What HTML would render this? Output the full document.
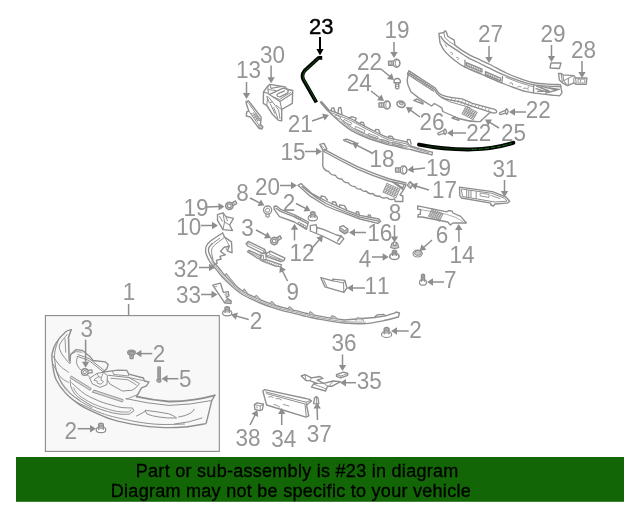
<!DOCTYPE html>
<html><head><meta charset="utf-8"><title>Part diagram</title>
<style>
html,body{margin:0;padding:0;background:#fff;}
body{width:640px;height:512px;overflow:hidden;position:relative;font-family:"Liberation Sans",sans-serif;}
svg{position:absolute;left:0;top:0;}
svg text{font-family:"Liberation Sans",sans-serif;font-size:22.5px;font-kerning:none;}
svg text.bt{font-size:18px;letter-spacing:0.28px;fill:#000;stroke:#000;stroke-width:0.3px;}
</style></head><body>
<svg width="640" height="512" viewBox="0 0 640 512">
<defs><filter id="nf" x="0" y="0" width="640" height="512" filterUnits="userSpaceOnUse" color-interpolation-filters="sRGB"><feOffset dx="0" dy="0"/></filter></defs>
<rect x="45.4" y="315.6" width="173.9" height="135.8" fill="#f8f8f8" stroke="#8a8a8a" stroke-width="1.1"/>
<g style="isolation:isolate;mix-blend-mode:normal" filter="url(#nf)">
<path d="M322.2 57.8L318.6 57.8L304.6 70.6Q301.2 74.8 303.3 79.6L316.4 102.4" stroke="#000" stroke-width="3.7" fill="none" stroke-linejoin="round"/>
<path d="M318.6 58.2L304.8 71Q301.8 75 303.8 79.4L316 101" stroke="#0f5f0a" stroke-width="0.9" fill="none"/>
<path d="M419 144.6Q445 149.8 472 149.4Q492 149 513.4 142.8" stroke="#000" stroke-width="3.9" fill="none" stroke-linecap="round"/>
<path d="M426 146.2Q449 149.8 472 149.5" stroke="#0c470a" stroke-width="0.8" fill="none"/>
<path d="M472 149.5Q492 149 511.6 143.4" stroke="#17801a" stroke-width="0.9" fill="none" stroke-dasharray="5 1.2"/>
<path d="M438.9 33.4L443.9 32.5L444.5 30.9L446 31.2L448 36.5L454.2 40.2L455 45.2L455.0 45.2C456.2 46.1 459.6 48.8 462.0 50.4C464.4 52.0 466.5 53.2 469.5 54.8C472.5 56.4 476.6 58.2 480.0 59.8C483.4 61.4 485.6 62.3 490.0 64.5C494.4 66.7 501.4 70.7 506.2 73.0C511.0 75.3 514.6 76.6 519.0 78.2C523.4 79.8 527.7 81.5 532.5 82.5C537.3 83.5 543.4 83.9 548.0 84.2C552.6 84.5 558.3 84.5 560.4 84.6L562 92.8L559.6 95.8L559.6 95.8C557.2 95.6 550.4 95.1 545.0 94.4C539.6 93.8 532.5 93.0 527.5 91.9C522.5 90.8 519.3 89.5 515.0 88.0C510.7 86.5 507.4 85.3 501.9 83.0C496.4 80.7 488.1 77.0 482.0 74.4C475.9 71.8 469.6 69.6 465.0 67.2C460.4 64.8 457.9 62.9 454.5 60.2C451.1 57.5 446.9 53.8 444.5 50.9C442.1 48.0 440.8 44.1 440.0 42.8Z" stroke="#8e8e8e" stroke-width="1.35" fill="none" stroke-linejoin="round" stroke-linecap="round" />
<path d="M440.8 36.5C441.3 37.2 442.8 39.6 444.0 41.0C445.2 42.4 446.0 43.0 448.2 44.6C450.4 46.2 453.7 48.2 457.0 50.4C460.3 52.6 464.7 55.8 468.2 57.8C471.7 59.8 474.4 60.7 478.0 62.5C481.6 64.3 485.9 66.4 490.0 68.4C494.1 70.4 497.9 72.4 502.5 74.4C507.1 76.4 512.5 78.5 517.5 80.2C522.5 81.9 527.4 83.6 532.5 84.6C537.6 85.6 543.3 85.9 548.0 86.2C552.7 86.5 558.7 86.5 560.8 86.6" stroke="#8e8e8e" stroke-width="1.35" fill="none" stroke-linejoin="round" stroke-linecap="round" />
<path d="M443.9 32.5L444.8 37.6Q450 43 455 45.2" stroke="#8e8e8e" stroke-width="1.0" fill="none" stroke-linejoin="round" stroke-linecap="round" />
<path d="M465 60.2L465 67.2M502.5 76.6L501.9 83M533.8 85L533.4 92.6" stroke="#8e8e8e" stroke-width="1.35" fill="none" stroke-linejoin="round" stroke-linecap="round" />
<path d="M466.4 62.6L482.0 69.2L482.0 72.0L466.4 65.6Z" stroke="#8e8e8e" stroke-width="1.35" fill="none" stroke-linejoin="round" stroke-linecap="round" />
<path d="M485.4 71.6L500.4 78.0L500.4 80.8L485.4 74.6Z" stroke="#8e8e8e" stroke-width="1.35" fill="none" stroke-linejoin="round" stroke-linecap="round" />
<path d="M468 63.6V66.2M469.8 64.4V67M471.6 65.2V67.8M473.4 66V68.6M475.2 66.8V69.4M477 67.6V70.2M478.8 68.4V71M480.6 69.2V71.8M487 72.6V75.2M488.8 73.4V76M490.6 74.2V76.8M492.4 75V77.6M494.2 75.8V78.4M496 76.6V79.2M497.8 77.4V80" stroke="#8e8e8e" stroke-width="0.9" fill="none" stroke-linejoin="round" stroke-linecap="round" />
<path d="M466.4 67.6L481.4 73.4M485.4 76.4L500 82" stroke="#8e8e8e" stroke-width="0.9" fill="none" stroke-linejoin="round" stroke-linecap="round" />
<path d="M445 44.5l1.6 2.4M450.6 52.6q1.4-.8 2 .6l-.6 1.4M456.6 57.4q1.6-.6 2 1l-.8 1.2" stroke="#8e8e8e" stroke-width="0.9" fill="none" stroke-linejoin="round" stroke-linecap="round" />
<path d="M509.6 83.4q1.2-1.4 2.6-.2l.4 1.6M517.6 87q1.6-1.6 3.4-.2M523.4 88.4q1.6-1.2 3.2 0M528.6 86.6q-1.6 1.6-.6 3.6" stroke="#8e8e8e" stroke-width="0.9" fill="none" stroke-linejoin="round" stroke-linecap="round" />
<path d="M506 77.4Q520 83.4 532.6 86.6" stroke="#8e8e8e" stroke-width="0.9" fill="none" stroke-linejoin="round" stroke-linecap="round" />
<path d="M536.6 86.2L549 91L537.6 91.4M541 86.4L557 90L545.6 93.2M549.6 87.8L559.4 89.4M536 88.6L544 91.2" stroke="#8e8e8e" stroke-width="1.35" fill="none" stroke-linejoin="round" stroke-linecap="round" />
<path d="M409 70.9L435.3 88Q438 93 441 94.7Q446 97 451 97.4L462 98.8L472.5 103.4L494.6 109.4Q497.4 110.8 496.4 112.4Q495 113.6 491 112.4" stroke="#8e8e8e" stroke-width="1.35" fill="none" stroke-linejoin="round" stroke-linecap="round" />
<path d="M408.2 72.6L434.6 89.6Q437 94.5 440.4 96.6Q446 99.4 450.6 100.2L459.4 101.6L471.6 106.2L491 112.4" stroke="#8e8e8e" stroke-width="1.35" fill="none" stroke-linejoin="round" stroke-linecap="round" />
<path d="M407.6 74.2L433.8 91.2" stroke="#8e8e8e" stroke-width="1.1" fill="none" stroke-linejoin="round" stroke-linecap="round" />
<path d="M409.0 70.9L407.4 74.4" stroke="#8e8e8e" stroke-width="1.35" fill="none" stroke-linejoin="round" stroke-linecap="round" />
<path d="M410.8 72.8l-1.2 2.6M412.7 74.0l-1.2 2.6M414.5 75.2l-1.2 2.6M416.4 76.4l-1.2 2.6M418.2 77.6l-1.2 2.6M420.1 78.9l-1.2 2.6M421.9 80.1l-1.2 2.6M423.8 81.3l-1.2 2.6M425.6 82.5l-1.2 2.6M427.5 83.7l-1.2 2.6M429.3 84.9l-1.2 2.6M431.2 86.1l-1.2 2.6M433.0 87.3l-1.2 2.6" stroke="#8e8e8e" stroke-width="0.8" fill="none" stroke-linejoin="round" stroke-linecap="round" />
<path d="M452.0 98.0l-1 2.6M455.4 99.0l-1 2.6M458.8 99.9l-1 2.6M462.2 100.9l-1 2.6M465.6 101.8l-1 2.6M469.0 102.8l-1 2.6M472.4 103.8l-1 2.6M475.8 104.7l-1 2.6M479.2 105.7l-1 2.6M482.6 106.6l-1 2.6M486.0 107.6l-1 2.6M489.4 108.6l-1 2.6" stroke="#8e8e8e" stroke-width="0.8" fill="none" stroke-linejoin="round" stroke-linecap="round" />
<path d="M408.3 74.5Q406.5 80 407.8 84.4L411 92L419.4 98.4L431.5 106L434.4 103.5L441.9 107.8L442.8 111.5L458.8 118.5Q470 122 480.3 121.5L488.8 113.4L491 112.4" stroke="#8e8e8e" stroke-width="1.35" fill="none" stroke-linejoin="round" stroke-linecap="round" />
<path d="M413.8 100.3L417.0 99.0L423.0 102.5L423.0 104.0Z" stroke="#8e8e8e" stroke-width="1.35" fill="none" stroke-linejoin="round" stroke-linecap="round" />
<path d="M452.0 118.0L455.0 117.0L458.8 119.0L458.8 120.4Z" stroke="#8e8e8e" stroke-width="1.35" fill="none" stroke-linejoin="round" stroke-linecap="round" />
<path d="M441 97.5L449.4 101.6L470 107.6" stroke="#8e8e8e" stroke-width="1.0" fill="none" stroke-linejoin="round" stroke-linecap="round" />
<path d="M466.1 106.3L477.1 112.2M466.1 106.3L462.1 113.8M465.4 107.6L476.4 113.4M467.9 107.3L463.9 114.8M464.7 108.8L475.8 114.7M469.8 108.3L465.8 115.8M464.1 110.1L475.1 115.9M471.6 109.2L467.6 116.8M463.4 111.3L474.5 117.2M473.4 110.2L469.4 117.7M462.8 112.6L473.8 118.4M475.3 111.2L471.3 118.7M462.1 113.8L473.1 119.7M477.1 112.2L473.1 119.7" stroke="#8e8e8e" stroke-width="0.85" fill="none" stroke-linejoin="round" stroke-linecap="round" />
<path d="M328.8 110.0C331.1 110.8 338.6 113.4 342.5 115.0C346.4 116.6 349.4 117.9 352.5 119.5C355.6 121.1 357.3 122.3 361.2 124.4C365.1 126.5 371.5 129.8 376.0 132.0C380.5 134.2 383.0 135.9 388.0 137.6C393.0 139.2 402.3 140.5 406.2 141.9C410.1 143.3 406.8 144.5 411.2 146.2C415.6 147.9 428.9 151.2 432.5 152.2L431.9 155L431.9 155.0C428.7 154.2 416.8 151.0 412.5 150.0C408.2 149.0 409.1 149.4 406.2 148.8C403.3 148.2 398.5 147.0 395.0 146.2C391.5 145.4 389.6 145.2 385.0 143.8C380.4 142.4 372.9 140.1 367.5 138.0C362.1 135.9 357.1 133.9 352.5 131.2C347.9 128.5 344.2 125.3 340.0 121.9C335.8 118.5 329.6 112.5 327.5 110.6L320.4 102.4L321.4 101.4Z" stroke="#8e8e8e" stroke-width="1.35" fill="none" stroke-linejoin="round" stroke-linecap="round" />
<path d="M321.6 102.6L328 110.4" stroke="#8e8e8e" stroke-width="0.9" fill="none" stroke-linejoin="round" stroke-linecap="round" />
<path d="M329.4 112.2C331.7 113.0 339.2 115.6 343.1 117.2C347.1 118.8 350.0 120.1 353.1 121.7C356.2 123.3 357.9 124.5 361.8 126.6C365.7 128.7 372.1 132.0 376.6 134.2C381.1 136.4 383.6 138.1 388.6 139.8C393.6 141.4 402.9 142.7 406.8 144.1C410.7 145.5 411.0 147.7 411.8 148.4" stroke="#8e8e8e" stroke-width="1.0" fill="none" stroke-linejoin="round" stroke-linecap="round" />
<path d="M341.2 119.3C343.3 120.9 349.1 125.9 353.7 128.6C358.3 131.3 363.3 133.3 368.7 135.4C374.1 137.5 381.6 139.8 386.2 141.2C390.8 142.6 392.7 142.8 396.2 143.6C399.7 144.4 404.5 145.6 407.4 146.2C410.3 146.8 412.6 147.2 413.7 147.4" stroke="#8e8e8e" stroke-width="1.0" fill="none" stroke-linejoin="round" stroke-linecap="round" />
<path d="M340.9 120.7C343.0 122.2 348.8 127.3 353.4 130.0C358.0 132.7 363.0 134.7 368.4 136.8C373.8 138.9 381.3 141.2 385.9 142.6C390.5 144.0 392.4 144.2 395.9 145.0C399.4 145.8 405.2 147.2 407.1 147.6" stroke="#8e8e8e" stroke-width="0.8" fill="none" stroke-linejoin="round" stroke-linecap="round" />
<path d="M331.2 111l.4-2.9 2.2-.3 1.2 4M338 113.6l.6-5.6 2.2-.5 1.2 7M348.8 118.2l3-1.6 4.4 1.6 -1 2.2M360 123.8l.6-1.6 2.6.2 1.2 3.2M375 131.4l.6-2 3 .2 1.4 3.4M388 137.6l1-1.6 3 .4 1.8 3M407 142l.6-2.6 2.4.2 1.2 4.6" stroke="#8e8e8e" stroke-width="1.35" fill="none" stroke-linejoin="round" stroke-linecap="round" />
<path d="M336 115l5 2.6-1 1.8-5-2.6zM344.6 119.6l7 3.6-1 2-7-3.6zM356 126.6l9 4-.9 2.2-9-4zM369 133.6l9 3.4-.8 2.2-9-3.4zM382 139.4l7 2.2-.6 2-7-2.2zM393 142.4l9 2-.4 2-9-2z" stroke="#8e8e8e" stroke-width="0.9" fill="none" stroke-linejoin="round" stroke-linecap="round" />
<path d="M414 148.4l15 4.4" stroke="#8e8e8e" stroke-width="0.9" fill="none" stroke-linejoin="round" stroke-linecap="round" />
<path d="M343.4 139.8L347.0 139.2L355.5 142.6L352.0 143.8Z" stroke="#8e8e8e" stroke-width="1.35" fill="none" stroke-linejoin="round" stroke-linecap="round" />
<path d="M346 140.2l-1.4 1.2M348.4 141l-1.4 1.4M350.8 142l-1.4 1.3" stroke="#8e8e8e" stroke-width="0.8" fill="none" stroke-linejoin="round" stroke-linecap="round" />
<path d="M319.8 144.4L324.0 143.4L326.9 149.0L323.0 150.4Z" stroke="#8e8e8e" stroke-width="1.35" fill="none" stroke-linejoin="round" stroke-linecap="round" />
<path d="M321.8 145.8l2.2 2.4" stroke="#8e8e8e" stroke-width="0.9" fill="none" stroke-linejoin="round" stroke-linecap="round" />
<path d="M323 151Q340 160.5 356.9 168.8Q373 176 388.8 181L405.6 184.7" stroke="#8e8e8e" stroke-width="1.35" fill="none" stroke-linejoin="round" stroke-linecap="round" />
<path d="M324.6 149.6Q341 158.6 357.9 166.9Q374 174 389.6 179L406 183" stroke="#8e8e8e" stroke-width="1.35" fill="none" stroke-linejoin="round" stroke-linecap="round" />
<path d="M322.8 151.9L322.8 166Q324.1 170.6 328.8 171.5Q330.8 175.5 335.4 175.2Q337.4 179.3 341.9 179.0Q343.9 183.0 348.4 182.8Q350.5 186.8 355.0 186.5Q356.8 189.9 360.5 188.8Q362.3 192.2 366.0 191.0Q368.5 194.6 372.7 193.5Q375.2 197.1 379.4 196.0Q382.7 199.2 386.9 197.4Q390.2 200.6 394.4 198.8L395.3 201.5L402.8 201.5L402.8 196L400 195L403.8 189.4L406 185" stroke="#8e8e8e" stroke-width="1.35" fill="none" stroke-linejoin="round" stroke-linecap="round" />
<path d="M392.5 182L402.8 189.4M396 183.2L402 187.5M404 184.4l-1.5 4" stroke="#8e8e8e" stroke-width="1.35" fill="none" stroke-linejoin="round" stroke-linecap="round" />
<path d="M386.9 183.4L399.7 189.1M386.9 183.4L383.1 192.1M386.3 184.9L399.1 190.6M389.1 184.4L385.2 193.0M385.6 186.3L398.4 192.0M391.2 185.3L387.3 194.0M385.0 187.8L397.8 193.4M393.3 186.3L389.5 194.9M384.4 189.2L397.2 194.9M395.5 187.2L391.6 195.9M383.7 190.6L396.5 196.3M397.6 188.2L393.7 196.8M383.1 192.1L395.9 197.8M399.7 189.1L395.9 197.8" stroke="#8e8e8e" stroke-width="0.85" fill="none" stroke-linejoin="round" stroke-linecap="round" />
<path d="M407.3 185.2L410.0 181.6L413.2 184.6L410.4 188.4Z" stroke="#8e8e8e" stroke-width="1.35" fill="none" stroke-linejoin="round" stroke-linecap="round" />
<path d="M409 184.8l1.6-1.6 1.4 1.4-1.6 1.8z" stroke="#8e8e8e" stroke-width="0.8" fill="none" stroke-linejoin="round" stroke-linecap="round" />
<path d="M298 185.3L301 183.6L312 193.7Q319 197.6 326 201L345 209.7L360 215.3L378.8 219L380.6 221.5L377.8 223.4L360 219L345 213.4Q335 210 326 206L309.4 195.6Z" stroke="#8e8e8e" stroke-width="1.35" fill="none" stroke-linejoin="round" stroke-linecap="round" />
<path d="M302 186.6Q314 196.5 326 203.5Q343 211.5 360 217.2L378.6 221.2" stroke="#8e8e8e" stroke-width="1.35" fill="none" stroke-linejoin="round" stroke-linecap="round" />
<path d="M320.6 198.4l.6-2.4 3.6.6 2.6 3.4M332 204l.4-2.2 3 .2 1.6 3.4M339.4 207.2l.4-2.4 4.6.8 2.2 3.8M356 213.8l.4-2.2 2.2.2.6 2.8M368 217l.3-2 2 .1.5 2.4" stroke="#8e8e8e" stroke-width="1.35" fill="none" stroke-linejoin="round" stroke-linecap="round" />
<path d="M274 206.5L276.5 206L281.2 209.7L294.4 214.8L308.4 222L306.5 229.4L294.4 222L279.4 216.6L274 208.8Z" stroke="#8e8e8e" stroke-width="1.35" fill="none" stroke-linejoin="round" stroke-linecap="round" />
<path d="M276 208.2L280.5 211.4L294 216.6L307.6 223.6" stroke="#8e8e8e" stroke-width="1.35" fill="none" stroke-linejoin="round" stroke-linecap="round" />
<path d="M295.4 215.6L300.4 218.0L300.4 220.0L295.4 217.6Z" stroke="#8e8e8e" stroke-width="0.9" fill="none" stroke-linejoin="round" stroke-linecap="round" />
<path d="M298.8 222.2L306.0 226.0L305.6 228.0L298.4 224.2Z" stroke="#8e8e8e" stroke-width="0.9" fill="none" stroke-linejoin="round" stroke-linecap="round" />
<path d="M300.4 223.4v2M302 224.2v2M303.6 225v2" stroke="#8e8e8e" stroke-width="0.8" fill="none" stroke-linejoin="round" stroke-linecap="round" />
<path d="M310.3 225.6L316.0 224.7L316.9 227.5L323.4 229.4L336.5 235.0L341.2 236.0L343.7 238.8L339.4 244.4L322.5 236.0L310.3 231.0Z" stroke="#8e8e8e" stroke-width="1.35" fill="none" stroke-linejoin="round" stroke-linecap="round" />
<path d="M316.9 227.5L316.4 233.4M341.2 236L337.6 241" stroke="#8e8e8e" stroke-width="1.35" fill="none" stroke-linejoin="round" stroke-linecap="round" />
<path d="M339.8 227.2L343.0 225.6L347.8 229.0L347.8 232.2L344.6 233.8L339.8 230.4Z" stroke="#8e8e8e" stroke-width="1.35" fill="none" stroke-linejoin="round" stroke-linecap="round" />
<path d="M339.8 227.2L344.6 230.6L347.8 229M344.6 230.6V233.8M341 228v3.2M342.2 228.9v3.2M343.4 229.8v3.2M345.8 230v3.2M347 229.4v3.2" stroke="#8e8e8e" stroke-width="0.8" fill="none" stroke-linejoin="round" stroke-linecap="round" />
<path d="M246.0 243.7L248.3 241.4L264.7 249.3L265.7 252.2L262.8 253.6L247.8 246.0Z" stroke="#8e8e8e" stroke-width="1.35" fill="none" stroke-linejoin="round" stroke-linecap="round" />
<path d="M247.4 243.2L263.8 251.2M264.7 249.3L262.8 253.6" stroke="#8e8e8e" stroke-width="0.9" fill="none" stroke-linejoin="round" stroke-linecap="round" />
<path d="M247.4 251.7L249.2 250.3L261.0 255.9L260.0 259.2L256.8 257.8Z" stroke="#8e8e8e" stroke-width="1.35" fill="none" stroke-linejoin="round" stroke-linecap="round" />
<path d="M249.2 250.3L250 252.6L260.4 257.6" stroke="#8e8e8e" stroke-width="0.9" fill="none" stroke-linejoin="round" stroke-linecap="round" />
<path d="M261 253.6L261 260M266 252.4L266.1 259.7M262.8 253.6L266.1 253.6M261 255.9L263.4 255.4V258.8" stroke="#8e8e8e" stroke-width="1.0" fill="none" stroke-linejoin="round" stroke-linecap="round" />
<path d="M266.1 253.6L270.3 251.2L284.9 258.2L283.9 260.6L280.7 261.5L266.1 256.4Z" stroke="#8e8e8e" stroke-width="1.35" fill="none" stroke-linejoin="round" stroke-linecap="round" />
<path d="M270.3 251.2L269.4 254L283.9 260.6M267.2 255.2L281 260" stroke="#8e8e8e" stroke-width="0.9" fill="none" stroke-linejoin="round" stroke-linecap="round" />
<path d="M260.5 260.1L266.1 259.7L281.6 264.8L280.7 266.7L275.5 266.2Z" stroke="#8e8e8e" stroke-width="1.35" fill="none" stroke-linejoin="round" stroke-linecap="round" />
<path d="M263.4 260.4l-1 1.2M265.6 260.6l-1.2 1.6M267.8 261.2l-1.4 2M270 262l-1.4 2M272.2 262.6l-1.4 2.2M274.4 263.4l-1.4 2.2M276.6 264l-1.2 2.2M278.8 264.6l-1 2" stroke="#8e8e8e" stroke-width="0.8" fill="none" stroke-linejoin="round" stroke-linecap="round" />
<path d="M217.5 214.7L223.0 212.8L226.0 216.6L233.4 218.4L229.7 225.0L232.5 230.6L223.0 229.7L217.5 220.3Z" stroke="#8e8e8e" stroke-width="1.35" fill="none" stroke-linejoin="round" stroke-linecap="round" />
<path d="M223 212.8L224.5 222L229.7 225M224.5 222L223 229.7M219.6 216.4L222.4 221.4M226 216.6L227.4 220.8" stroke="#8e8e8e" stroke-width="1.0" fill="none" stroke-linejoin="round" stroke-linecap="round" />
<path d="M222.6 233.0C220.6 234.4 213.0 239.0 210.3 241.2C207.6 243.4 207.2 244.5 206.4 246.0C205.6 247.5 205.6 248.6 205.6 250.0C205.6 251.4 205.4 252.1 206.2 254.2C207.0 256.3 208.6 259.9 210.3 262.5C212.0 265.1 214.5 267.2 216.4 269.6C218.3 272.0 219.7 274.3 222.0 276.8C224.3 279.3 227.0 281.9 230.0 284.6C233.0 287.3 236.9 290.7 240.2 293.0C243.5 295.3 246.5 296.6 250.0 298.4C253.5 300.1 257.6 302.0 261.3 303.5C265.0 305.0 268.5 306.2 272.0 307.4C275.5 308.6 278.6 309.6 282.4 310.6C286.2 311.6 290.7 312.6 295.0 313.6C299.3 314.6 303.5 315.8 308.0 316.8C312.5 317.8 315.9 318.7 321.9 319.7C327.9 320.7 336.5 322.4 343.8 323.0C351.1 323.6 359.1 324.0 365.6 323.6C372.1 323.2 377.5 321.9 383.0 320.8C388.5 319.7 395.8 317.6 398.4 317.0L399.5 313L396 312" stroke="#8e8e8e" stroke-width="1.35" fill="none" stroke-linejoin="round" stroke-linecap="round" />
<path d="M212.2 243.5C211.7 244.2 209.6 246.3 209.0 247.4C208.4 248.5 208.6 249.1 208.6 250.1C208.6 251.0 208.3 251.3 209.0 253.1C209.7 254.9 211.2 258.4 212.8 260.8C214.4 263.3 216.8 265.4 218.7 267.7C220.6 270.0 222.0 272.3 224.2 274.8C226.4 277.2 229.0 279.7 232.0 282.4C234.9 285.0 238.7 288.3 241.9 290.5C245.1 292.8 247.9 294.0 251.3 295.7C254.8 297.4 258.8 299.2 262.4 300.7C266.0 302.2 269.5 303.4 273.0 304.6C276.4 305.7 279.4 306.7 283.2 307.7C287.0 308.7 291.5 309.7 295.7 310.7C300.0 311.7 304.2 312.9 308.7 313.9C313.1 314.9 316.5 315.7 322.4 316.7C328.3 317.8 340.5 319.5 344.1 320.0L374.4 317.5L385.3 315.8L396 312.7" stroke="#8e8e8e" stroke-width="1.35" fill="none" stroke-linejoin="round" stroke-linecap="round" />
<path d="M211.6 261.7C212.6 262.8 215.6 266.3 217.6 268.7C219.5 271.0 220.9 273.3 223.1 275.8C225.4 278.3 228.0 280.8 231.0 283.5C234.0 286.1 237.8 289.5 241.1 291.8C244.3 294.0 247.2 295.3 250.7 297.1C254.1 298.8 258.2 300.6 261.9 302.1C265.5 303.6 269.0 304.8 272.5 306.0C276.0 307.2 279.0 308.1 282.8 309.2C286.6 310.2 291.1 311.1 295.4 312.1C299.6 313.2 303.9 314.3 308.3 315.3C312.8 316.4 316.2 317.2 322.2 318.2C328.1 319.3 336.7 320.9 343.9 321.5C351.2 322.2 361.9 322.0 365.5 322.1" stroke="#8e8e8e" stroke-width="0.8" fill="none" stroke-linejoin="round" stroke-linecap="round" />
<path d="M222.6 233.0L224.6 237.1L231.5 241.9L232.1 252.9L227.4 250.8L229.4 246.0L223.9 247.4L220.5 251.5L225.3 254.9L219.8 256.3L221.2 259.0L216.4 260.4L217.1 263.1L213.7 265.2" stroke="#8e8e8e" stroke-width="1.35" fill="none" stroke-linejoin="round" stroke-linecap="round" />
<path d="M223.9 237.8C222.2 239.2 215.8 243.7 213.7 246.0C211.6 248.3 211.7 249.2 211.6 251.5C211.5 253.8 212.8 258.3 213.0 259.7" stroke="#8e8e8e" stroke-width="1.0" fill="none" stroke-linejoin="round" stroke-linecap="round" />
<path d="M211.4 244.4L219.8 238.2" stroke="#8e8e8e" stroke-width="1.0" fill="none" stroke-linejoin="round" stroke-linecap="round" />
<path d="M224.6 237.1L229.4 246M227.4 250.8L225 246.8" stroke="#8e8e8e" stroke-width="0.9" fill="none" stroke-linejoin="round" stroke-linecap="round" />
<path d="M225.0 275.5l1.2 -2.2L235.0 284.2L236.4 286.0" stroke="#8e8e8e" stroke-width="1.0" fill="#c4c4c4" stroke-linejoin="round" stroke-linecap="round" />
<path d="M243.0 291.1l1.2 -2.4L246.4 291.8L247.8 293.8" stroke="#8e8e8e" stroke-width="1.0" fill="#c4c4c4" stroke-linejoin="round" stroke-linecap="round" />
<path d="M255.0 297.4l1.2 -2.4L259.4 298.0L260.8 300.0" stroke="#8e8e8e" stroke-width="1.0" fill="#c4c4c4" stroke-linejoin="round" stroke-linecap="round" />
<path d="M270.4 303.6l1.2 -2.4L274.0 303.3L275.4 305.3" stroke="#8e8e8e" stroke-width="1.0" fill="#c4c4c4" stroke-linejoin="round" stroke-linecap="round" />
<path d="M288.0 308.9l1.2 -2.4L291.8 308.1L293.2 310.1" stroke="#8e8e8e" stroke-width="1.0" fill="#c4c4c4" stroke-linejoin="round" stroke-linecap="round" />
<path d="M308.8 313.9l1.2 -2.4L312.6 313.0L314.0 315.0" stroke="#8e8e8e" stroke-width="1.0" fill="#c4c4c4" stroke-linejoin="round" stroke-linecap="round" />
<path d="M330.6 318.0l1.2 -2.4L335.6 316.9L337.0 318.9" stroke="#8e8e8e" stroke-width="1.0" fill="#c4c4c4" stroke-linejoin="round" stroke-linecap="round" />
<path d="M355.8 320.3l1.2 -2.6L362.0 318.3L363.4 320.5" stroke="#8e8e8e" stroke-width="1.0" fill="#c4c4c4" stroke-linejoin="round" stroke-linecap="round" />
<path d="M374.4 317.5l2.6-2.6 6.4-.6 2 1.5" stroke="#8e8e8e" stroke-width="1.35" fill="none" stroke-linejoin="round" stroke-linecap="round" />
<path d="M212.7 285.2L220.5 283.1L223.3 292.3L228.2 291.6L228.9 295.8L226.1 297.2L231.0 300.7L231.0 303.5L224.7 302.8Z" stroke="#8e8e8e" stroke-width="1.35" fill="none" stroke-linejoin="round" stroke-linecap="round" />
<path d="M214.8 286.8l1.8-.5M226 293.4a1.1 1.1 0 1 0 .1 0M224.7 302.8L226.6 299.6L231 300.7" stroke="#8e8e8e" stroke-width="0.9" fill="none" stroke-linejoin="round" stroke-linecap="round" />
<path d="M226.6 299.6l4.4 1.1v2.8l-6.3-.7z" stroke="#8e8e8e" stroke-width="0.8" fill="#bbb" stroke-linejoin="round" stroke-linecap="round" />
<path d="M320.8 277.7L332.8 280.8L332.8 279.2L344.8 280.3L347.0 288.0L343.8 292.3L325.0 286.9Z" stroke="#8e8e8e" stroke-width="1.35" fill="none" stroke-linejoin="round" stroke-linecap="round" />
<path d="M332.8 280.8L343.6 283L344.8 280.3M343.6 283L343.8 292.3M323.6 279.8L326.8 286.2" stroke="#8e8e8e" stroke-width="1.0" fill="none" stroke-linejoin="round" stroke-linecap="round" />
<path d="M417.7 205.8L447.0 211.8L448.7 210.6L452.0 211.0L453.0 213.0L460.7 216.4L466.4 223.0L453.0 223.0L450.4 225.0L447.8 222.0L422.0 217.0L417.7 217.0L418.4 214.4L420.3 214.4L420.6 209.6L417.7 209.2Z" stroke="#8e8e8e" stroke-width="1.35" fill="none" stroke-linejoin="round" stroke-linecap="round" />
<path d="M420.6 209.6L446 214.2Q456 216.5 463 221.6" stroke="#8e8e8e" stroke-width="0.7" fill="none" stroke-linejoin="round" stroke-linecap="round" />
<path d="M432.1 208.8L442.9 213.9M432.1 208.8L428.7 216.1M431.5 210.0L442.4 215.1M433.9 209.7L430.5 216.9M430.9 211.3L441.8 216.3M435.7 210.5L432.3 217.8M430.4 212.5L441.2 217.5M437.5 211.4L434.1 218.6M429.8 213.7L440.7 218.7M439.3 212.2L435.9 219.5M429.2 214.9L440.1 220.0M441.1 213.1L437.7 220.3M428.7 216.1L439.5 221.2M442.9 213.9L439.5 221.2" stroke="#8e8e8e" stroke-width="0.8" fill="none" stroke-linejoin="round" stroke-linecap="round" />
<path d="M459.5 187.2L492.5 191.7L506.2 197.2L509.7 201.5L507.0 203.2L495.0 204.0L493.4 206.0L490.8 205.0L490.8 203.2L461.6 198.0L459.8 195.5Z" stroke="#8e8e8e" stroke-width="1.35" fill="none" stroke-linejoin="round" stroke-linecap="round" />
<path d="M461.6 189L491.8 193.3L504.8 198.4L507 201.2L495 202L463 196.6Z" stroke="#8e8e8e" stroke-width="1.0" fill="none" stroke-linejoin="round" stroke-linecap="round" />
<path d="M466.7 190.3V197M471 190.8V197.6M476.2 191.4V198.4M468.8 190.5V197.2" stroke="#8e8e8e" stroke-width="1.0" fill="none" stroke-linejoin="round" stroke-linecap="round" />
<path d="M480.5 193l8.5 1.4v3l-8.5-1.4zM491 195.4l9 3.2" stroke="#8e8e8e" stroke-width="0.9" fill="none" stroke-linejoin="round" stroke-linecap="round" />
<path d="M262.8 391.0L264.7 389.6L309.7 399.4L311.5 400.9L306.5 405.0L308.8 415.9L306.0 417.2L266.6 405.0Z" stroke="#8e8e8e" stroke-width="1.35" fill="none" stroke-linejoin="round" stroke-linecap="round" />
<path d="M265.6 391.9L306 402.2L310.6 400.4M306 402.2L306.5 405M266.6 393.6L305 404L306.2 416" stroke="#8e8e8e" stroke-width="1.0" fill="none" stroke-linejoin="round" stroke-linecap="round" />
<path d="M268.6 397q2.5-1.5 4.6.4M276 398.6q3-.8 5.4 1.2M274 404.4q2.6.4 5.6 2.6M283.4 404.4l5.6 1.6" stroke="#8e8e8e" stroke-width="0.9" fill="none" stroke-linejoin="round" stroke-linecap="round" />
<path d="M254.4 404.6L257.0 402.8L263.4 404.2L262.4 409.6L260.0 410.6L254.8 409.4Z" stroke="#8e8e8e" stroke-width="1.35" fill="none" stroke-linejoin="round" stroke-linecap="round" />
<path d="M254.4 404.6L260.4 406L260 410.6M260.4 406L263.4 404.2M257 406.6v1.4" stroke="#8e8e8e" stroke-width="0.9" fill="none" stroke-linejoin="round" stroke-linecap="round" />
<path d="M313.6 403.6L314.6 398.0L316.4 396.4L318.0 398.0L318.8 403.8Z" stroke="#8e8e8e" stroke-width="1.35" fill="none" stroke-linejoin="round" stroke-linecap="round" />
<path d="M316.4 396.4V403.7" stroke="#8e8e8e" stroke-width="0.9" fill="none" stroke-linejoin="round" stroke-linecap="round" />
<path d="M301.2 376.0L305.0 374.6L311.5 377.8L320.0 376.5L322.8 378.4L317.2 380.2L323.8 383.4L333.0 381.0L340.6 381.6L332.2 386.2L327.5 386.2L325.6 391.0L311.5 387.2L313.4 384.0L317.2 383.4L309.7 380.6L306.0 380.6Z" stroke="#8e8e8e" stroke-width="1.35" fill="none" stroke-linejoin="round" stroke-linecap="round" />
<path d="M305 374.6L306 380.6M311.5 377.8L309.7 380.6M317.2 383.4L323.8 383.4M327.5 386.2L323.8 383.4M333 381L330 385M313.4 384L325.6 388.6" stroke="#8e8e8e" stroke-width="0.9" fill="none" stroke-linejoin="round" stroke-linecap="round" />
<path d="M336.5 374.6L343.4 372.2L347.8 373.5L347.6 375.4L340.6 377.8L336.5 376.4Z" stroke="#8e8e8e" stroke-width="1.35" fill="none" stroke-linejoin="round" stroke-linecap="round" />
<path d="M336.5 374.6L340.8 376L347.8 373.5M340.8 376V377.8" stroke="#8e8e8e" stroke-width="0.9" fill="none" stroke-linejoin="round" stroke-linecap="round" />
<path d="M267.7 86.2L269.9 84.4L285.2 87.0L287.0 89.2L292.7 90.5L292.3 103.3L281.7 109.5L281.7 120.9L278.7 120.4L272.5 114.3L266.8 105.5L263.3 103.3L263.5 91.9Z" stroke="#8e8e8e" stroke-width="1.4" fill="none" stroke-linejoin="round" stroke-linecap="round" />
<path d="M263.5 91.9L267.6 93.2L271.2 95.8L280 101.5L292.7 93.2" stroke="#8e8e8e" stroke-width="1.2" fill="none" stroke-linejoin="round" stroke-linecap="round" />
<path d="M280 101.5L281.7 109.5M267.7 86.2L268.4 92.6M269.9 84.4L271 88.4L280.6 86.6" stroke="#8e8e8e" stroke-width="1.1" fill="none" stroke-linejoin="round" stroke-linecap="round" />
<path d="M270.2 94.2L282.6 88.4Q287 88.2 288.1 90.4Q288.6 92.6 286.4 93.6L280 96.9Q277.4 97 276.9 95.6Q276.8 94.2 278.6 93.4L284.6 90.9" stroke="#8e8e8e" stroke-width="1.3" fill="none" stroke-linejoin="round" stroke-linecap="round" />
<path d="M272.4 96.4L279.4 99.6L290.4 92.6M268.6 89.6L276 90.6" stroke="#8e8e8e" stroke-width="1.0" fill="none" stroke-linejoin="round" stroke-linecap="round" />
<path d="M266.8 96.7L269.4 102.8L272.5 102L269 97.6ZM272.5 102L278.6 109.9L280 118.6M276.4 105.5L280.8 109M266.8 105.5L267.4 99M270.4 104l4.4 9.4M273.6 107.4l4.2 10.6" stroke="#8e8e8e" stroke-width="1.0" fill="none" stroke-linejoin="round" stroke-linecap="round" />
<path d="M246.2 101.4L248.2 100.8L249.6 102.3L261.1 117.1L261.1 118.6L260.4 124.1L262.9 126.9L261.8 129.0L259.0 128.3L250.5 117.1L246.3 116.0L246.7 111.8L248.8 111.1L246.3 103.7Z" stroke="#8e8e8e" stroke-width="1.4" fill="none" stroke-linejoin="round" stroke-linecap="round" />
<path d="M248.8 111.1L259.8 126.4M249.6 104.6L260.2 119.4M247.4 102.4l1 .9" stroke="#8e8e8e" stroke-width="1.0" fill="none" stroke-linejoin="round" stroke-linecap="round" />
<path d="M251.4 113.6l4.6 1.4M252.8 115.6l5 1.4M254.4 117.6l4.8 1.4M255.8 119.6l4.4 1.2M253.6 112.6l4.2 8.4M256 113.6l3.4 6.6" stroke="#8e8e8e" stroke-width="0.85" fill="none" stroke-linejoin="round" stroke-linecap="round" />
<path d="M259.6 125a1.2 1.6 -35 1 0 .1 0" stroke="#8e8e8e" stroke-width="0.9" fill="none" stroke-linejoin="round" stroke-linecap="round" />
<path d="M551.0 62.8L561.0 63.0L559.4 68.5L550.0 68.0Z" stroke="#8e8e8e" stroke-width="1.35" fill="none" stroke-linejoin="round" stroke-linecap="round" />
<path d="M558.5 73.5L561.2 73.5L563.0 74.8L573.8 75.6L575.6 78.0L586.9 78.0L586.2 84.4L576.2 84.4L573.8 82.8L567.5 85.6L562.5 83.0L559.4 80.0Z" stroke="#8e8e8e" stroke-width="1.35" fill="none" stroke-linejoin="round" stroke-linecap="round" />
<path d="M561.2 73.5L562.5 83M563 74.8L563.6 80.8L567.5 85.6M563.6 80.8L568.4 78.2L573.8 75.6M568.4 78.2L568.2 85M573.8 78.2V82.8M575.6 78L576.2 84.4" stroke="#8e8e8e" stroke-width="1.0" fill="none" stroke-linejoin="round" stroke-linecap="round" />
<path d="M578.4 79.2h6.4v3.8h-6.4zM580.6 80.4v1.4M565 82.4v2" stroke="#8e8e8e" stroke-width="0.9" fill="none" stroke-linejoin="round" stroke-linecap="round" />
<path d="M71.2 329.8C70.3 330.1 68.3 329.6 65.8 331.8C63.3 334.0 58.5 339.2 56.2 342.8C53.9 346.4 52.7 349.8 52.1 353.7C51.5 357.6 52.1 361.7 52.8 366.0C53.5 370.3 54.0 375.1 56.2 379.7C58.4 384.3 62.0 389.3 65.8 393.4C69.6 397.5 74.5 401.4 79.0 404.4C83.5 407.4 87.4 409.1 93.0 411.6C98.6 414.2 105.2 417.4 112.7 419.7C120.2 422.0 130.1 423.9 138.0 425.2C145.9 426.5 152.2 427.1 160.0 427.4C167.8 427.7 176.8 427.6 184.5 427.0C192.2 426.4 202.4 424.2 206.0 423.6L207 420L211.8 400.5L214.7 395.3" stroke="#8e8e8e" stroke-width="1.35" fill="none" stroke-linejoin="round" stroke-linecap="round" />
<path d="M214.7 395.3Q205 398 194.2 399.6Q181 401.6 168.8 401.5Q152 400 136.6 396.6" stroke="#8e8e8e" stroke-width="1.9" fill="none" stroke-linejoin="round" stroke-linecap="round" />
<path d="M136.6 396.6L141.5 387.8L146.4 385.9L149 382L144.4 381L143.4 378L128.8 374.2L126.8 370.3L118 370.1L102.7 372.2L106.8 368.8L108.2 364.6L105.4 361.9L93.1 360.5L90.4 357.1L82.2 350.3L76 349.6L70.6 354.4L69.9 363.3" stroke="#8e8e8e" stroke-width="1.35" fill="none" stroke-linejoin="round" stroke-linecap="round" />
<path d="M71.2 329.8L68.5 337.3L69.2 360.5" stroke="#8e8e8e" stroke-width="1.5" fill="none" stroke-linejoin="round" stroke-linecap="round" />
<path d="M67.1 334.6C65.8 336.3 60.6 341.9 59.6 344.8C58.6 347.8 60.0 349.9 61.0 352.3C62.0 354.7 64.5 357.5 65.8 359.2C67.0 360.9 68.0 362.0 68.5 362.6" stroke="#8e8e8e" stroke-width="1.0" fill="none" stroke-linejoin="round" stroke-linecap="round" />
<path d="M65 338.7L65.8 352.3" stroke="#8e8e8e" stroke-width="0.9" fill="none" stroke-linejoin="round" stroke-linecap="round" />
<path d="M58.0 341.0C57.5 342.8 55.3 348.2 54.8 352.0C54.3 355.8 54.6 359.8 55.2 364.0C55.8 368.2 56.7 372.8 58.6 377.0C60.5 381.2 63.3 385.2 66.5 389.0C69.7 392.8 73.8 396.5 78.0 399.6C82.2 402.7 89.7 406.3 92.0 407.6" stroke="#8e8e8e" stroke-width="1.0" fill="none" stroke-linejoin="round" stroke-linecap="round" />
<path d="M56.2 370.0C57.1 372.3 59.4 379.9 61.7 383.8C64.0 387.7 66.9 390.6 69.9 393.4C73.0 396.2 78.3 399.2 80.0 400.4" stroke="#8e8e8e" stroke-width="0.9" fill="none" stroke-linejoin="round" stroke-linecap="round" />
<path d="M52.8 355.8C53.5 356.8 55.5 360.1 57.0 362.0C58.5 363.9 59.8 365.7 61.7 367.4C63.6 369.1 67.4 371.4 68.5 372.2" stroke="#8e8e8e" stroke-width="1.0" fill="none" stroke-linejoin="round" stroke-linecap="round" />
<path d="M53.5 364.6C54.1 365.8 55.6 369.7 57.0 372.0C58.4 374.3 59.8 376.6 61.7 378.3C63.6 380.0 67.4 381.7 68.5 382.4" stroke="#8e8e8e" stroke-width="1.0" fill="none" stroke-linejoin="round" stroke-linecap="round" />
<path d="M125.9 398.6Q147 403.6 168.8 405.4Q190 405 211.8 400.5" stroke="#8e8e8e" stroke-width="1.0" fill="none" stroke-linejoin="round" stroke-linecap="round" />
<path d="M66.2 393.7C67.7 394.9 71.8 398.9 75.0 401.0C78.2 403.1 81.1 404.3 85.3 406.2C89.5 408.1 95.4 410.9 100.0 412.6C104.6 414.3 106.4 415.0 112.7 416.6C119.0 418.2 130.1 420.7 138.0 422.0C145.9 423.3 152.2 424.1 160.0 424.4C167.8 424.7 180.4 424.1 184.5 424.0" stroke="#8e8e8e" stroke-width="1.0" fill="none" stroke-linejoin="round" stroke-linecap="round" />
<path d="M77.4 356.4C77.3 357.5 76.1 361.0 76.7 363.3C77.3 365.6 79.0 368.2 80.8 370.1C82.6 372.0 86.5 374.1 87.6 374.9" stroke="#8e8e8e" stroke-width="1.0" fill="none" stroke-linejoin="round" stroke-linecap="round" />
<path d="M77.4 356.4L89 360.5L102.7 371.5M78 354.6L89.6 358.8L104 370.4" stroke="#8e8e8e" stroke-width="1.0" fill="none" stroke-linejoin="round" stroke-linecap="round" />
<path d="M87.6 374.9L90.4 378M70.6 354.4L76 351.6L82 352.2" stroke="#8e8e8e" stroke-width="0.9" fill="none" stroke-linejoin="round" stroke-linecap="round" />
<path d="M90 378L97 373.4L103.6 372.2L107.4 375.7L107 384.6L100 387.4L92.6 384Z" stroke="#8e8e8e" stroke-width="1.0" fill="none" stroke-linejoin="round" stroke-linecap="round" />
<path d="M95.2 378.8l3.2-2 3 .6-.4 2.8 2.6 1.4-2.6 2.6-3.4-.8-.6-2.4-2.6-.6z" stroke="#8e8e8e" stroke-width="0.9" fill="none" stroke-linejoin="round" stroke-linecap="round" />
<path d="M97 373.4L98.6 376.6M103.6 372.2L101.4 377.4" stroke="#8e8e8e" stroke-width="0.8" fill="none" stroke-linejoin="round" stroke-linecap="round" />
<path d="M107.9 375.2L129 377.6L139.5 383.6L138 385.6Q135 389 131.8 390.3L122.3 391L110 384.1L107.4 380" stroke="#8e8e8e" stroke-width="1.0" fill="none" stroke-linejoin="round" stroke-linecap="round" />
<path d="M112.4 370.8L113.6 374.4L128.6 376L128.8 374.2M129 377.6L143.4 380.6" stroke="#8e8e8e" stroke-width="0.9" fill="none" stroke-linejoin="round" stroke-linecap="round" />
<path d="M110.8 378.2L128 379.8L136.4 385" stroke="#8e8e8e" stroke-width="0.9" fill="none" stroke-linejoin="round" stroke-linecap="round" />
<path d="M126.4 399.2L138 394.4" stroke="#8e8e8e" stroke-width="0.9" fill="none" stroke-linejoin="round" stroke-linecap="round" />
<path d="M70.3 378L90.1 390.3L91.3 388.5L71.5 376.2Z" stroke="#8e8e8e" stroke-width="0.9" fill="#d8d8d8" stroke-linejoin="round" stroke-linecap="round" />
<path d="M92.9 392.3L122.3 401.9Q123.6 400.6 123 399.6L93.8 390Q92.4 391 92.9 392.3Z" stroke="#8e8e8e" stroke-width="0.9" fill="#d8d8d8" stroke-linejoin="round" stroke-linecap="round" />
<path d="M70.3 380.0C70.4 381.1 70.1 384.4 71.0 386.9C71.9 389.4 73.6 392.6 75.8 395.0C78.0 397.4 81.3 399.2 84.0 401.0C86.7 402.8 89.2 404.5 92.2 406.0C95.2 407.5 98.6 408.7 102.0 409.8C105.4 410.9 109.5 412.2 112.7 412.9C115.9 413.6 118.3 414.0 121.0 414.2C123.7 414.4 127.8 414.2 129.1 414.2L133.9 410.8L132.5 408L132.5 408.0C130.6 407.9 124.3 407.9 120.9 407.4C117.5 406.9 115.0 406.0 112.0 405.2C109.0 404.4 106.1 403.7 103.1 402.6C100.1 401.5 97.0 400.2 94.0 398.8C91.0 397.4 88.0 396.1 85.3 394.4C82.6 392.7 80.3 390.5 78.0 388.6C75.7 386.7 72.8 383.8 71.7 382.8" stroke="#8e8e8e" stroke-width="1.0" fill="none" stroke-linejoin="round" stroke-linecap="round" />
<path d="M73.4 387.6C74.1 388.7 75.7 392.0 77.6 394.0C79.5 396.0 82.4 397.8 85.0 399.4C87.6 401.0 90.0 402.4 93.0 403.8C96.0 405.2 99.7 406.5 103.0 407.6C106.3 408.7 110.0 409.9 113.0 410.6C116.0 411.3 118.4 411.7 121.0 411.9C123.6 412.1 127.2 412.0 128.4 412.0L131 410" stroke="#8e8e8e" stroke-width="0.9" fill="none" stroke-linejoin="round" stroke-linecap="round" />
<path d="M145.4 410.3Q157 411.6 168.8 413.8Q173.6 415.4 176.6 418Q167 418.4 159 417Q152 416 147.3 414.2Z" stroke="#8e8e8e" stroke-width="1.0" fill="none" stroke-linejoin="round" stroke-linecap="round" />
<path d="M136.6 416L145.4 411.3" stroke="#8e8e8e" stroke-width="1.0" fill="none" stroke-linejoin="round" stroke-linecap="round" />
<path d="M178.6 417Q186 416 190.3 413.2Q193.4 411.6 194.2 409.3" stroke="#8e8e8e" stroke-width="1.0" fill="none" stroke-linejoin="round" stroke-linecap="round" />
<path d="M174.7 424Q190 422.6 202 418" stroke="#8e8e8e" stroke-width="1.0" fill="none" stroke-linejoin="round" stroke-linecap="round" />
<path d="M394.0 61.1h-5.4v4.2h5.4" stroke="#8e8e8e" stroke-width="1.4" fill="#ddd" stroke-linejoin="round" stroke-linecap="round" />
<path d="M391.2 61.1v4.2" stroke="#8e8e8e" stroke-width="0.9" fill="none" stroke-linejoin="round" stroke-linecap="round" />
<ellipse cx="396.6" cy="63.2" rx="3.3" ry="4" fill="#fff" stroke="#8e8e8e" stroke-width="1.5"/>
<ellipse cx="397.5" cy="63.2" rx="2.2" ry="3.6" fill="none" stroke="#8e8e8e" stroke-width="0.9"/>
<path d="M384.4 102.9h-5.4v4.2h5.4" stroke="#8e8e8e" stroke-width="1.4" fill="#ddd" stroke-linejoin="round" stroke-linecap="round" />
<path d="M381.6 102.9v4.2" stroke="#8e8e8e" stroke-width="0.9" fill="none" stroke-linejoin="round" stroke-linecap="round" />
<ellipse cx="387" cy="105" rx="3.3" ry="4" fill="#fff" stroke="#8e8e8e" stroke-width="1.5"/>
<ellipse cx="387.9" cy="105" rx="2.2" ry="3.6" fill="none" stroke="#8e8e8e" stroke-width="0.9"/>
<path d="M401.0 167.9h-5.4v4.2h5.4" stroke="#8e8e8e" stroke-width="1.4" fill="#ddd" stroke-linejoin="round" stroke-linecap="round" />
<path d="M398.2 167.9v4.2" stroke="#8e8e8e" stroke-width="0.9" fill="none" stroke-linejoin="round" stroke-linecap="round" />
<ellipse cx="403.6" cy="170" rx="3.3" ry="4" fill="#fff" stroke="#8e8e8e" stroke-width="1.5"/>
<ellipse cx="404.5" cy="170" rx="2.2" ry="3.6" fill="none" stroke="#8e8e8e" stroke-width="0.9"/>
<path d="M394.0 82.7Q393.6 78.5 397.2 78.5Q400.8 78.5 400.4 82.7Z" stroke="#8e8e8e" stroke-width="1.35" fill="none" stroke-linejoin="round" stroke-linecap="round" />
<path d="M395.6 82.7V88.1Q397.2 89.9 398.8 88.1V82.7" stroke="#8e8e8e" stroke-width="1.35" fill="none" stroke-linejoin="round" stroke-linecap="round" />
<path d="M395.6 84.5h3.2M395.6 86.3h3.2" stroke="#8e8e8e" stroke-width="0.8" fill="none" stroke-linejoin="round" stroke-linecap="round" />
<ellipse cx="401" cy="104.2" rx="4.1" ry="3.1" fill="none" stroke="#8e8e8e" stroke-width="1.6" transform="rotate(20 401 104.2)"/>
<ellipse cx="401.2" cy="103.4" rx="2.1" ry="1.3" fill="#ccc" stroke="#8e8e8e" stroke-width="1.0" transform="rotate(20 401.2 103.4)"/>
<path d="M506.6 108.8Q509.6 111.6 506.6 114.4Q504.2 111.6 506.6 108.8Z" stroke="#8e8e8e" stroke-width="1.35" fill="#fff" stroke-linejoin="round" stroke-linecap="round" />
<path d="M505.2 110.3L500.0 112.6Q498.6 114.0 500.6 114.6L505.6 113.2" stroke="#8e8e8e" stroke-width="1.35" fill="none" stroke-linejoin="round" stroke-linecap="round" />
<path d="M445.0 129.0Q448.0 131.8 445.0 134.6Q442.6 131.8 445.0 129.0Z" stroke="#8e8e8e" stroke-width="1.35" fill="#fff" stroke-linejoin="round" stroke-linecap="round" />
<path d="M443.6 130.5L438.4 132.8Q437.0 134.2 439.0 134.8L444.0 133.4" stroke="#8e8e8e" stroke-width="1.35" fill="none" stroke-linejoin="round" stroke-linecap="round" />
<path d="M266 213.4v3q1.6 1.6 3.2 0v-3" stroke="#8e8e8e" stroke-width="1.2" fill="none" stroke-linejoin="round" stroke-linecap="round" />
<circle cx="267.6" cy="210.1" r="4.1" fill="#fff" stroke="#8e8e8e" stroke-width="1.3"/>
<path d="M265.4 210.2L266.5 208.3H268.7L269.8 210.2L268.7 212.1H266.5Z" stroke="#8e8e8e" stroke-width="1.0" fill="none" stroke-linejoin="round" stroke-linecap="round" />
<g transform="translate(229.3 205.9) rotate(-28)">
<path d="M2 -1.5h5.6v3h-5.6" stroke="#8e8e8e" stroke-width="1.3" fill="none" stroke-linejoin="round" stroke-linecap="round" />
<path d="M7.6 -1.5v3M5.4 -1.5v3" stroke="#8e8e8e" stroke-width="0.9" fill="none" stroke-linejoin="round" stroke-linecap="round" />
<circle cx="0" cy="0" r="3.6" fill="#e4e4e4" stroke="#8e8e8e" stroke-width="1.6"/>
<path d="M-2 0L-1 -1.75H1L2 0L1 1.75H-1Z" stroke="#8e8e8e" stroke-width="1.1" fill="#fff" stroke-linejoin="round" stroke-linecap="round" />
</g>
<g transform="translate(274.2 241) rotate(-30)">
<path d="M2 -1.5h5.6v3h-5.6" stroke="#8e8e8e" stroke-width="1.3" fill="none" stroke-linejoin="round" stroke-linecap="round" />
<path d="M7.6 -1.5v3M5.4 -1.5v3" stroke="#8e8e8e" stroke-width="0.9" fill="none" stroke-linejoin="round" stroke-linecap="round" />
<circle cx="0" cy="0" r="3.6" fill="#e4e4e4" stroke="#8e8e8e" stroke-width="1.6"/>
<path d="M-2 0L-1 -1.75H1L2 0L1 1.75H-1Z" stroke="#8e8e8e" stroke-width="1.1" fill="#fff" stroke-linejoin="round" stroke-linecap="round" />
</g>
<ellipse cx="312.8" cy="218" rx="4.6" ry="2.8" fill="#fff" stroke="#8e8e8e" stroke-width="1.2"/>
<path d="M310.6 217.4V212.6Q312.8 210.8 315.0 212.6V217.4" stroke="#8e8e8e" stroke-width="1.35" fill="#b4b4b4" stroke-linejoin="round" stroke-linecap="round" />
<path d="M310.6 214.4h4.4" stroke="#8e8e8e" stroke-width="0.8" fill="none" stroke-linejoin="round" stroke-linecap="round" />
<ellipse cx="227.2" cy="313" rx="4.6" ry="2.8" fill="#fff" stroke="#8e8e8e" stroke-width="1.2"/>
<path d="M225.0 312.4V307.6Q227.2 305.8 229.4 307.6V312.4" stroke="#8e8e8e" stroke-width="1.35" fill="#b4b4b4" stroke-linejoin="round" stroke-linecap="round" />
<path d="M225.0 309.4h4.4" stroke="#8e8e8e" stroke-width="0.8" fill="none" stroke-linejoin="round" stroke-linecap="round" />
<ellipse cx="386.6" cy="334.4" rx="5.1" ry="3.1" fill="#fff" stroke="#8e8e8e" stroke-width="1.2"/>
<path d="M384.2 333.7V328.5Q386.6 326.5 389.0 328.5V333.7" stroke="#8e8e8e" stroke-width="1.35" fill="#b4b4b4" stroke-linejoin="round" stroke-linecap="round" />
<path d="M384.2 330.4h4.8" stroke="#8e8e8e" stroke-width="0.8" fill="none" stroke-linejoin="round" stroke-linecap="round" />
<ellipse cx="423" cy="282.4" rx="3.5" ry="2.8" fill="#fff" stroke="#8e8e8e" stroke-width="1.2"/>
<path d="M421.5 281.0V275.0Q423.0 273.4 424.5 275.0V281.0" stroke="#8e8e8e" stroke-width="1.35" fill="#b0b0b0" stroke-linejoin="round" stroke-linecap="round" />
<path d="M421.5 277.0h3M421.5 279.0h3" stroke="#8e8e8e" stroke-width="0.8" fill="none" stroke-linejoin="round" stroke-linecap="round" />
<ellipse cx="394.4" cy="256.4" rx="4.7" ry="3.1" fill="#fff" stroke="#8e8e8e" stroke-width="1.6"/>
<path d="M392.4 255.4V251Q394.5 249.6 396.6 251V255.4M392.4 252.4h4.2M392.4 253.8h4.2" stroke="#8e8e8e" stroke-width="1.35" fill="#b4b4b4" stroke-linejoin="round" stroke-linecap="round" />
<path d="M390.6 247.6L391.8 243.4L393.4 242.2H396L397.6 243.4L398.8 247.6Q394.6 249.4 390.6 247.6ZM393.4 242.2V245.4H396V242.2" stroke="#8e8e8e" stroke-width="1.1" fill="#c8c8c8" stroke-linejoin="round" stroke-linecap="round" />
<ellipse cx="417.6" cy="253.6" rx="4.6" ry="3.4" fill="#fff" stroke="#8e8e8e" stroke-width="1.2"/>
<path d="M414.6 253.4l1.2-2.6 3.4-.4 2 2-.6 2.4-3.4.6z" stroke="#8e8e8e" stroke-width="1.0" fill="#c4c4c4" stroke-linejoin="round" stroke-linecap="round" />
<path d="M87.8 370.4l4-.6.6 2.6-4 1" stroke="#8e8e8e" stroke-width="1.2" fill="none" stroke-linejoin="round" stroke-linecap="round" />
<circle cx="84.8" cy="372" r="3.3" fill="#f8f8f8" stroke="#8e8e8e" stroke-width="1.4"/>
<path d="M83.2 372L84 370.5h1.6l.8 1.5-.8 1.5H84z" stroke="#8e8e8e" stroke-width="1.0" fill="none" stroke-linejoin="round" stroke-linecap="round" />
<path d="M129.9 354.4V358Q131.6 359.6 133.3 358V354.4Z" stroke="#8e8e8e" stroke-width="1.1" fill="#aaa" stroke-linejoin="round" stroke-linecap="round" />
<ellipse cx="131.5" cy="352.5" rx="3.9" ry="2.5" fill="#a4a4a4" stroke="#8e8e8e" stroke-width="1.2"/>
<path d="M129.6 352.4l1-1.2h1.9l1 1.2" stroke="#777" stroke-width="0.8" fill="none" stroke-linejoin="round" stroke-linecap="round" />
<path d="M157.8 367.2V380.4H160.4V367.2Z" stroke="#8e8e8e" stroke-width="1.0" fill="#a0a0a0" stroke-linejoin="round" stroke-linecap="round" />
<path d="M157.2 379.4h3.8v2.4q-1.9 1.3-3.8 0z" stroke="#8e8e8e" stroke-width="1.0" fill="#a8a8a8" stroke-linejoin="round" stroke-linecap="round" />
<ellipse cx="101" cy="429.8" rx="4.8" ry="2.9" fill="#fff" stroke="#8e8e8e" stroke-width="1.2"/>
<path d="M98.7 429.2V424.1Q101.0 422.2 103.3 424.1V429.2" stroke="#8e8e8e" stroke-width="1.35" fill="#b4b4b4" stroke-linejoin="round" stroke-linecap="round" />
<path d="M98.7 426.0h4.6" stroke="#8e8e8e" stroke-width="0.8" fill="none" stroke-linejoin="round" stroke-linecap="round" />
<text transform="translate(272.5 62.65) scale(1 1.06)" text-anchor="middle" fill="#959595" >30</text>
<text transform="translate(248.4 77.85) scale(1 1.06)" text-anchor="middle" fill="#959595" >13</text>
<text transform="translate(397 38.35) scale(1 1.06)" text-anchor="middle" fill="#959595" >19</text>
<text transform="translate(369.4 70.1) scale(1 1.06)" text-anchor="middle" fill="#959595" >22</text>
<text transform="translate(359.25 91.35) scale(1 1.06)" text-anchor="middle" fill="#959595" >24</text>
<text transform="translate(432 130.1) scale(1 1.06)" text-anchor="middle" fill="#959595" >26</text>
<text transform="translate(490.4 42.1) scale(1 1.06)" text-anchor="middle" fill="#959595" >27</text>
<text transform="translate(552.9 41.85) scale(1 1.06)" text-anchor="middle" fill="#959595" >29</text>
<text transform="translate(583.5 57.6) scale(1 1.06)" text-anchor="middle" fill="#959595" >28</text>
<text transform="translate(538.25 118.35) scale(1 1.06)" text-anchor="middle" fill="#959595" >22</text>
<text transform="translate(478.75 140.6) scale(1 1.06)" text-anchor="middle" fill="#959595" >22</text>
<text transform="translate(513.5 140.6) scale(1 1.06)" text-anchor="middle" fill="#959595" >25</text>
<text transform="translate(300.25 131.85) scale(1 1.06)" text-anchor="middle" fill="#959595" >21</text>
<text transform="translate(293.1 160.1) scale(1 1.06)" text-anchor="middle" fill="#959595" >15</text>
<text transform="translate(267.4 195.1) scale(1 1.06)" text-anchor="middle" fill="#959595" >20</text>
<text transform="translate(242.5 201.1) scale(1 1.06)" text-anchor="middle" fill="#959595" >8</text>
<text transform="translate(289 210.6) scale(1 1.06)" text-anchor="middle" fill="#959595" >2</text>
<text transform="translate(382.1 166.85) scale(1 1.06)" text-anchor="middle" fill="#959595" >18</text>
<text transform="translate(438.4 175.85) scale(1 1.06)" text-anchor="middle" fill="#959595" >19</text>
<text transform="translate(444.4 198.1) scale(1 1.06)" text-anchor="middle" fill="#959595" >17</text>
<text transform="translate(505 176.85) scale(1 1.06)" text-anchor="middle" fill="#959595" >31</text>
<text transform="translate(395 220.85) scale(1 1.06)" text-anchor="middle" fill="#959595" >8</text>
<text transform="translate(442 242.6) scale(1 1.06)" text-anchor="middle" fill="#959595" >6</text>
<text transform="translate(461.9 263.35) scale(1 1.06)" text-anchor="middle" fill="#959595" >14</text>
<text transform="translate(450.25 288.1) scale(1 1.06)" text-anchor="middle" fill="#959595" >7</text>
<text transform="translate(379.75 241.35) scale(1 1.06)" text-anchor="middle" fill="#959595" >16</text>
<text transform="translate(365 266.85) scale(1 1.06)" text-anchor="middle" fill="#959595" >4</text>
<text transform="translate(377 294.35) scale(1 1.06)" text-anchor="middle" fill="#959595" >11</text>
<text transform="translate(195.9 216.35) scale(1 1.06)" text-anchor="middle" fill="#959595" >19</text>
<text transform="translate(188.75 235.1) scale(1 1.06)" text-anchor="middle" fill="#959595" >10</text>
<text transform="translate(247.5 235.6) scale(1 1.06)" text-anchor="middle" fill="#959595" >3</text>
<text transform="translate(302 261.35) scale(1 1.06)" text-anchor="middle" fill="#959595" >12</text>
<text transform="translate(292.75 299.85) scale(1 1.06)" text-anchor="middle" fill="#959595" >9</text>
<text transform="translate(186.25 276.85) scale(1 1.06)" text-anchor="middle" fill="#959595" >32</text>
<text transform="translate(188.5 303.35) scale(1 1.06)" text-anchor="middle" fill="#959595" >33</text>
<text transform="translate(256.1 329.35) scale(1 1.06)" text-anchor="middle" fill="#959595" >2</text>
<text transform="translate(415.5 338.35) scale(1 1.06)" text-anchor="middle" fill="#959595" >2</text>
<text transform="translate(344 350.85) scale(1 1.06)" text-anchor="middle" fill="#959595" >36</text>
<text transform="translate(369.25 389.15000000000003) scale(1 1.06)" text-anchor="middle" fill="#959595" >35</text>
<text transform="translate(248 445.85) scale(1 1.06)" text-anchor="middle" fill="#959595" >38</text>
<text transform="translate(283.75 446.85) scale(1 1.06)" text-anchor="middle" fill="#959595" >34</text>
<text transform="translate(319.25 441.85) scale(1 1.06)" text-anchor="middle" fill="#959595" >37</text>
<text transform="translate(129 300.35) scale(1 1.06)" text-anchor="middle" fill="#959595" >1</text>
<text transform="translate(86.85 337.15000000000003) scale(1 1.06)" text-anchor="middle" fill="#959595" >3</text>
<text transform="translate(159.1 361.95000000000005) scale(1 1.06)" text-anchor="middle" fill="#959595" >2</text>
<text transform="translate(185.3 387.05) scale(1 1.06)" text-anchor="middle" fill="#959595" >5</text>
<text transform="translate(70.65 438.55) scale(1 1.06)" text-anchor="middle" fill="#959595" >2</text>
<text transform="translate(321.25 33.8) scale(1 1.02)" style="font-size:22px" text-anchor="middle" fill="#000" stroke="#000" stroke-width="0.45">23</text>
<path d="M271.1 65.5L271.1 78.3" stroke="#8e8e8e" stroke-width="1.5" fill="none"/>
<path d="M271.1 83.3L267.4 77.3L274.8 77.3Z" fill="#8e8e8e"/>
<path d="M246.5 82.0L246.5 94.0" stroke="#8e8e8e" stroke-width="1.5" fill="none"/>
<path d="M246.5 99.0L242.8 93.0L250.2 93.0Z" fill="#8e8e8e"/>
<path d="M394.0 42.0L394.0 53.0" stroke="#8e8e8e" stroke-width="1.5" fill="none"/>
<path d="M394.0 58.0L390.3 52.0L397.7 52.0Z" fill="#8e8e8e"/>
<path d="M381.0 69.0L390.2 76.8" stroke="#8e8e8e" stroke-width="1.5" fill="none"/>
<path d="M394.0 80.0L387.0 78.9L391.8 73.3Z" fill="#8e8e8e"/>
<path d="M371.0 91.0L380.0 98.0" stroke="#8e8e8e" stroke-width="1.5" fill="none"/>
<path d="M384.0 101.0L377.0 100.3L381.5 94.4Z" fill="#8e8e8e"/>
<path d="M420.0 117.0L410.1 109.9" stroke="#8e8e8e" stroke-width="1.5" fill="none"/>
<path d="M406.0 107.0L413.0 107.5L408.7 113.5Z" fill="#8e8e8e"/>
<path d="M489.0 46.0L489.0 58.0" stroke="#8e8e8e" stroke-width="1.5" fill="none"/>
<path d="M489.0 63.0L485.3 57.0L492.7 57.0Z" fill="#8e8e8e"/>
<path d="M551.5 45.0L551.5 57.0" stroke="#8e8e8e" stroke-width="1.5" fill="none"/>
<path d="M551.5 62.0L547.8 56.0L555.2 56.0Z" fill="#8e8e8e"/>
<path d="M582.0 61.0L582.0 73.0" stroke="#8e8e8e" stroke-width="1.5" fill="none"/>
<path d="M582.0 78.0L578.3 72.0L585.7 72.0Z" fill="#8e8e8e"/>
<path d="M526.0 112.0L514.0 112.0" stroke="#8e8e8e" stroke-width="1.5" fill="none"/>
<path d="M509.0 112.0L515.0 108.3L515.0 115.7Z" fill="#8e8e8e"/>
<path d="M466.0 133.0L452.0 133.0" stroke="#8e8e8e" stroke-width="1.5" fill="none"/>
<path d="M447.0 133.0L453.0 129.3L453.0 136.7Z" fill="#8e8e8e"/>
<path d="M499.0 128.0L489.3 122.1" stroke="#8e8e8e" stroke-width="1.5" fill="none"/>
<path d="M485.0 119.5L492.0 119.5L488.2 125.8Z" fill="#8e8e8e"/>
<path d="M312.0 121.0L324.3 116.7" stroke="#8e8e8e" stroke-width="1.5" fill="none"/>
<path d="M329.0 115.0L324.6 120.5L322.1 113.5Z" fill="#8e8e8e"/>
<path d="M305.0 151.5L317.0 151.5" stroke="#8e8e8e" stroke-width="1.5" fill="none"/>
<path d="M322.0 151.5L316.0 155.2L316.0 147.8Z" fill="#8e8e8e"/>
<path d="M280.0 185.5L292.0 185.5" stroke="#8e8e8e" stroke-width="1.5" fill="none"/>
<path d="M297.0 185.5L291.0 189.2L291.0 181.8Z" fill="#8e8e8e"/>
<path d="M250.0 198.0L260.1 203.2" stroke="#8e8e8e" stroke-width="1.5" fill="none"/>
<path d="M264.5 205.5L257.5 206.0L260.9 199.5Z" fill="#8e8e8e"/>
<path d="M296.0 203.5L306.1 208.7" stroke="#8e8e8e" stroke-width="1.5" fill="none"/>
<path d="M310.5 211.0L303.5 211.5L306.9 205.0Z" fill="#8e8e8e"/>
<path d="M372.0 153.0L356.5 145.2" stroke="#8e8e8e" stroke-width="1.5" fill="none"/>
<path d="M352.0 143.0L359.0 142.4L355.7 149.0Z" fill="#8e8e8e"/>
<path d="M425.0 168.0L412.5 169.4" stroke="#8e8e8e" stroke-width="1.5" fill="none"/>
<path d="M407.5 170.0L413.0 165.6L413.9 173.0Z" fill="#8e8e8e"/>
<path d="M429.0 190.0L415.8 186.0" stroke="#8e8e8e" stroke-width="1.5" fill="none"/>
<path d="M411.0 184.5L417.8 182.7L415.7 189.8Z" fill="#8e8e8e"/>
<path d="M504.5 180.0L504.5 192.0" stroke="#8e8e8e" stroke-width="1.5" fill="none"/>
<path d="M504.5 197.0L500.8 191.0L508.2 191.0Z" fill="#8e8e8e"/>
<path d="M394.5 225.0L394.5 237.5" stroke="#8e8e8e" stroke-width="1.5" fill="none"/>
<path d="M394.5 242.5L390.8 236.5L398.2 236.5Z" fill="#8e8e8e"/>
<path d="M432.0 240.0L423.3 247.7" stroke="#8e8e8e" stroke-width="1.5" fill="none"/>
<path d="M419.5 251.0L421.6 244.3L426.4 249.8Z" fill="#8e8e8e"/>
<path d="M459.0 242.0L458.8 229.0" stroke="#8e8e8e" stroke-width="1.5" fill="none"/>
<path d="M458.7 224.0L462.5 229.9L455.1 230.1Z" fill="#8e8e8e"/>
<path d="M444.0 282.0L432.0 282.0" stroke="#8e8e8e" stroke-width="1.5" fill="none"/>
<path d="M427.0 282.0L433.0 278.3L433.0 285.7Z" fill="#8e8e8e"/>
<path d="M366.0 232.5L354.0 232.5" stroke="#8e8e8e" stroke-width="1.5" fill="none"/>
<path d="M349.0 232.5L355.0 228.8L355.0 236.2Z" fill="#8e8e8e"/>
<path d="M372.0 257.0L383.7 257.0" stroke="#8e8e8e" stroke-width="1.5" fill="none"/>
<path d="M388.7 257.0L382.7 260.7L382.7 253.3Z" fill="#8e8e8e"/>
<path d="M365.0 288.0L352.0 288.0" stroke="#8e8e8e" stroke-width="1.5" fill="none"/>
<path d="M347.0 288.0L353.0 284.3L353.0 291.7Z" fill="#8e8e8e"/>
<path d="M207.0 207.0L219.5 206.6" stroke="#8e8e8e" stroke-width="1.5" fill="none"/>
<path d="M224.5 206.5L218.6 210.4L218.4 203.0Z" fill="#8e8e8e"/>
<path d="M201.0 225.5L213.0 225.5" stroke="#8e8e8e" stroke-width="1.5" fill="none"/>
<path d="M218.0 225.5L212.0 229.2L212.0 221.8Z" fill="#8e8e8e"/>
<path d="M256.0 230.0L266.6 235.6" stroke="#8e8e8e" stroke-width="1.5" fill="none"/>
<path d="M271.0 238.0L264.0 238.4L267.4 231.9Z" fill="#8e8e8e"/>
<path d="M294.5 240.5L294.5 228.7" stroke="#8e8e8e" stroke-width="1.5" fill="none"/>
<path d="M294.5 223.7L298.2 229.7L290.8 229.7Z" fill="#8e8e8e"/>
<path d="M310.0 250.5L319.7 239.3" stroke="#8e8e8e" stroke-width="1.5" fill="none"/>
<path d="M323.0 235.5L321.9 242.5L316.3 237.6Z" fill="#8e8e8e"/>
<path d="M287.5 281.0L282.2 270.5" stroke="#8e8e8e" stroke-width="1.5" fill="none"/>
<path d="M280.0 266.0L286.0 269.7L279.4 273.0Z" fill="#8e8e8e"/>
<path d="M199.0 267.5L210.0 267.5" stroke="#8e8e8e" stroke-width="1.5" fill="none"/>
<path d="M215.0 267.5L209.0 271.2L209.0 263.8Z" fill="#8e8e8e"/>
<path d="M201.0 294.5L212.5 294.5" stroke="#8e8e8e" stroke-width="1.5" fill="none"/>
<path d="M217.5 294.5L211.5 298.2L211.5 290.8Z" fill="#8e8e8e"/>
<path d="M248.7 319.5L235.8 315.9" stroke="#8e8e8e" stroke-width="1.5" fill="none"/>
<path d="M231.0 314.5L237.8 312.6L235.8 319.7Z" fill="#8e8e8e"/>
<path d="M408.7 331.0L396.0 331.0" stroke="#8e8e8e" stroke-width="1.5" fill="none"/>
<path d="M391.0 331.0L397.0 327.3L397.0 334.7Z" fill="#8e8e8e"/>
<path d="M342.5 354.5L342.5 366.0" stroke="#8e8e8e" stroke-width="1.5" fill="none"/>
<path d="M342.5 371.0L338.8 365.0L346.2 365.0Z" fill="#8e8e8e"/>
<path d="M356.0 382.7L345.0 382.7" stroke="#8e8e8e" stroke-width="1.5" fill="none"/>
<path d="M340.0 382.7L346.0 379.0L346.0 386.4Z" fill="#8e8e8e"/>
<path d="M250.0 425.0L255.3 414.5" stroke="#8e8e8e" stroke-width="1.5" fill="none"/>
<path d="M257.5 410.0L258.1 417.0L251.5 413.7Z" fill="#8e8e8e"/>
<path d="M281.7 425.0L281.7 413.0" stroke="#8e8e8e" stroke-width="1.5" fill="none"/>
<path d="M281.7 408.0L285.4 414.0L278.0 414.0Z" fill="#8e8e8e"/>
<path d="M317.5 420.0L317.1 407.5" stroke="#8e8e8e" stroke-width="1.5" fill="none"/>
<path d="M317.0 402.5L320.9 408.4L313.5 408.6Z" fill="#8e8e8e"/>
<path d="M85.6 339.7L85.6 362.8" stroke="#8e8e8e" stroke-width="1.5" fill="none"/>
<path d="M85.6 367.8L81.9 361.8L89.3 361.8Z" fill="#8e8e8e"/>
<path d="M152.3 353.6L140.4 353.6" stroke="#8e8e8e" stroke-width="1.5" fill="none"/>
<path d="M135.4 353.6L141.4 349.9L141.4 357.3Z" fill="#8e8e8e"/>
<path d="M178.4 378.7L166.5 378.7" stroke="#8e8e8e" stroke-width="1.5" fill="none"/>
<path d="M161.5 378.7L167.5 375.0L167.5 382.4Z" fill="#8e8e8e"/>
<path d="M77.7 428.7L91.0 428.7" stroke="#8e8e8e" stroke-width="1.5" fill="none"/>
<path d="M96.0 428.7L90.0 432.4L90.0 425.0Z" fill="#8e8e8e"/>
<path d="M128.6 304V315.5" stroke="#8e8e8e" stroke-width="1.5"/>
<path d="M320.0 37.0L320.0 50.0" stroke="#000" stroke-width="2.0" fill="none"/>
<path d="M320.0 55.5L316.4 49.0L323.6 49.0Z" fill="#000"/>
<rect x="16" y="457" width="608" height="44.8" fill="#126606"/>
<text class="bt" x="135.8" y="476.6">Part or sub-assembly is #23 in diagram</text>
<text class="bt" x="110.8" y="496.6">Diagram may not be specific to your vehicle</text>
</g>
</svg>

</body></html>
